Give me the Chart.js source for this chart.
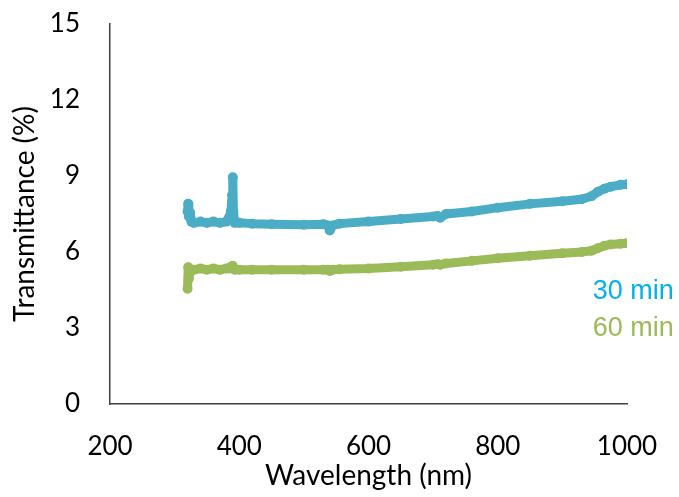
<!DOCTYPE html>
<html>
<head>
<meta charset="utf-8">
<script src="https://cdn.jsdelivr.net/npm/chart.js@4"></script>
<style>
  html, body { margin: 0; padding: 0; background: #fff; }
  #wrap { width: 679px; height: 497px; }
</style>
</head>
<body>
<div id="wrap"><canvas id="chart" width="679" height="497"></canvas></div>
<script>
const wavelengths = [320, 321, 322, 324, 326, 330, 340, 350, 360, 370, 380, 384, 387, 389, 390, 391, 393, 400, 420, 450, 500, 530, 537, 540, 545, 555, 600, 650, 700, 707, 711, 720, 760, 800, 850, 900, 930, 945, 955, 965, 975, 990, 1000];
const min30 = [7.6, 7.9, 7.4, 7.55, 7.2, 7.15, 7.2, 7.15, 7.2, 7.15, 7.2, 7.35, 7.6, 8.25, 8.95, 7.6, 7.15, 7.15, 7.12, 7.1, 7.08, 7.1, 7.05, 6.85, 7.05, 7.12, 7.2, 7.3, 7.4, 7.42, 7.35, 7.5, 7.6, 7.75, 7.9, 8.0, 8.08, 8.2, 8.38, 8.5, 8.58, 8.65, 8.67];
const min60 = [4.55, 5.4, 4.95, 5.3, 5.25, 5.3, 5.35, 5.3, 5.35, 5.3, 5.35, 5.35, 5.4, 5.45, 5.45, 5.35, 5.3, 5.3, 5.3, 5.3, 5.3, 5.3, 5.3, 5.25, 5.3, 5.32, 5.35, 5.42, 5.5, 5.52, 5.5, 5.55, 5.65, 5.75, 5.85, 5.95, 6.0, 6.05, 6.15, 6.25, 6.3, 6.33, 6.35];
const seriesNames = ["30 min", "60 min"];
const seriesColors = ["#4BACC6", "#9BBB59"];
const labelColors = ["#00B0F0", "#9BBB59"];
const yTicks = [0, 3, 6, 9, 12, 15];
const xTicks = [200, 400, 600, 800, 1000];

const font = "Lato, 'Liberation Sans', sans-serif";

function toPoints(ys) {
  return wavelengths.map((w, i) => ({ x: w, y: ys[i] }));
}

// text labels next to the curves instead of a legend
const seriesLabels = {
  id: "seriesLabels",
  afterDraw(chart) {
    const ctx = chart.ctx;
    const xs = chart.scales.x, ys = chart.scales.y;
    ctx.save();
    ctx.font = "27px 'Liberation Sans', Arial, sans-serif";
    ctx.textBaseline = "middle";
    ctx.textAlign = "left";
    const at = [[947, 4.42], [947, 2.96]];
    seriesNames.forEach((n, i) => {
      ctx.fillStyle = labelColors[i];
      ctx.fillText(n, xs.getPixelForValue(at[i][0]), ys.getPixelForValue(at[i][1]));
    });
    ctx.restore();
  }
};

function series(i, ys) {
  return {
    label: seriesNames[i], data: toPoints(ys),
    borderColor: seriesColors[i], backgroundColor: seriesColors[i],
    borderWidth: 9, pointRadius: 5, pointBorderWidth: 0, pointHoverRadius: 5,
    tension: 0, borderCapStyle: "round", borderJoinStyle: "round"
  };
}

new Chart(document.getElementById("chart").getContext("2d"), {
  type: "line",
  data: { datasets: [series(0, min30), series(1, min60)] },
  options: {
    responsive: false,
    animation: false,
    layout: { padding: { top: 24, right: 52, left: 0, bottom: 0 } },
    plugins: { legend: { display: false }, tooltip: { enabled: false } },
    scales: {
      x: {
        type: "linear", min: 200, max: 1000,
        afterBuildTicks: s => { s.ticks = xTicks.map(v => ({ value: v })); },
        afterFit: s => { s.height = 93; s.paddingLeft = 0; s.paddingRight = 0; },
        grid: { display: false, drawTicks: false },
        border: { display: true, color: "#404040", width: 1.5 },
        ticks: { color: "#000", font: { family: font, size: 26 }, padding: 27, maxRotation: 0, callback: v => String(v) },
        title: { display: true, text: "Wavelength (nm)", color: "#000", font: { family: font, size: 28 }, padding: { top: 6 } }
      },
      y: {
        min: 0, max: 15,
        afterBuildTicks: s => { s.ticks = yTicks.map(v => ({ value: v })); },
        afterFit: s => { s.width = 110; s.paddingTop = 0; s.paddingBottom = 0; },
        grid: { display: false, drawTicks: false },
        border: { display: true, color: "#404040", width: 1.5 },
        ticks: { color: "#000", font: { family: font, size: 26 }, padding: 30 },
        title: { display: true, text: "Transmittance (%)", color: "#000", font: { family: font, size: 28 }, padding: { top: 8, bottom: 0 } }
      }
    }
  },
  plugins: [seriesLabels]
});
</script>
</body>
</html>
